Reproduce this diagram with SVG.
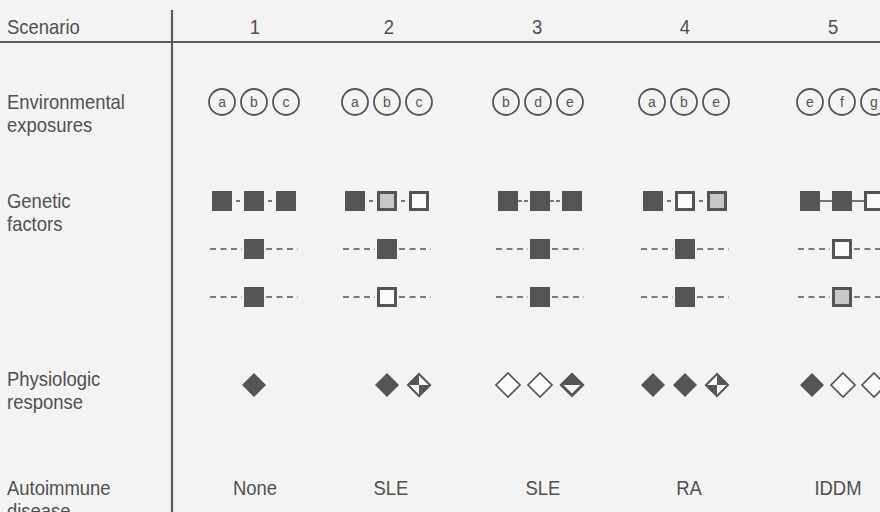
<svg xmlns="http://www.w3.org/2000/svg" width="880" height="512" viewBox="0 0 880 512">
<defs>
<style>
.lbl{font-family:"Liberation Sans",Arial,sans-serif;font-size:20.5px;fill:#505050}
.hd{font-family:"Liberation Sans",Arial,sans-serif;font-size:20.5px;fill:#505050;text-anchor:middle}
.cl{font-family:"Liberation Sans",Arial,sans-serif;font-size:15.5px;fill:#555;text-anchor:middle}
.circ{fill:none;stroke:#555;stroke-width:1.8}
.rule{stroke:#5a5a5a;stroke-width:2.2;fill:none}
.sqF{fill:#555;stroke:#555;stroke-width:1}
.sqO{fill:#fafafa;stroke:#555;stroke-width:3}
.sqS{fill:#c8c8c8;stroke:#555;stroke-width:3}
.link{stroke:#555;stroke-width:1.6;fill:none}
.dash{stroke:#555;stroke-width:1.6;fill:none;stroke-dasharray:6,4.5}
.dF{fill:#555}
.dO{fill:#fafafa;stroke:#555;stroke-width:1.7}
</style>
<symbol id="sF" viewBox="0 0 20 20"><rect x="0.5" y="0.5" width="19" height="19" class="sqF"/></symbol>
<symbol id="sO" viewBox="0 0 20 20" overflow="visible"><rect x="1.5" y="1.5" width="17" height="17" class="sqO"/></symbol>
<symbol id="sS" viewBox="0 0 20 20" overflow="visible"><rect x="1.5" y="1.5" width="17" height="17" class="sqS"/></symbol>
<path id="dia" d="M0,-12 L12,0 L0,12 L-12,0 Z"/>
</defs>
<rect width="880" height="512" fill="#f3f3f3"/>

<g id="frame">
<line class="rule" x1="0" y1="42" x2="880" y2="42"/>
<line class="rule" x1="172" y1="10" x2="172" y2="512"/>
</g>

<g id="row-labels" transform="scale(0.9,1)">
<text class="lbl" x="7.8" y="34">Scenario</text>
<text class="lbl" x="7.8" y="109">Environmental</text>
<text class="lbl" x="7.8" y="132">exposures</text>
<text class="lbl" x="7.8" y="208">Genetic</text>
<text class="lbl" x="7.8" y="231">factors</text>
<text class="lbl" x="7.8" y="386">Physiologic</text>
<text class="lbl" x="7.8" y="409">response</text>
<text class="lbl" x="7.8" y="495">Autoimmune</text>
<text class="lbl" x="7.8" y="518">disease</text>
</g>

<g id="headers" transform="scale(0.9,1)">
<text class="hd" x="283.3" y="34">1</text>
<text class="hd" x="432.2" y="34">2</text>
<text class="hd" x="596.7" y="34">3</text>
<text class="hd" x="761.1" y="34">4</text>
<text class="hd" x="925.6" y="34">5</text>
</g>

<g id="exposures">
<g id="env-circles">
<circle class="circ" cx="222" cy="102" r="13"/>
<circle class="circ" cx="254" cy="102" r="13"/>
<circle class="circ" cx="286" cy="102" r="13"/>
<circle class="circ" cx="355" cy="102" r="13"/>
<circle class="circ" cx="387" cy="102" r="13"/>
<circle class="circ" cx="419" cy="102" r="13"/>
<circle class="circ" cx="506" cy="102" r="13"/>
<circle class="circ" cx="538" cy="102" r="13"/>
<circle class="circ" cx="570" cy="102" r="13"/>
<circle class="circ" cx="652" cy="102" r="13"/>
<circle class="circ" cx="684" cy="102" r="13"/>
<circle class="circ" cx="716" cy="102" r="13"/>
<circle class="circ" cx="810" cy="102" r="13"/>
<circle class="circ" cx="842" cy="102" r="13"/>
<circle class="circ" cx="874" cy="102" r="13"/>
</g>
<g id="env-letters" transform="scale(0.9,1)">
<text class="cl" x="246.7" y="107.5">a</text>
<text class="cl" x="282.2" y="107.5">b</text>
<text class="cl" x="317.8" y="107.5">c</text>
<text class="cl" x="394.4" y="107.5">a</text>
<text class="cl" x="430.0" y="107.5">b</text>
<text class="cl" x="465.6" y="107.5">c</text>
<text class="cl" x="562.2" y="107.5">b</text>
<text class="cl" x="597.8" y="107.5">d</text>
<text class="cl" x="633.3" y="107.5">e</text>
<text class="cl" x="724.4" y="107.5">a</text>
<text class="cl" x="760.0" y="107.5">b</text>
<text class="cl" x="795.6" y="107.5">e</text>
<text class="cl" x="900.0" y="107.5">e</text>
<text class="cl" x="935.6" y="107.5">f</text>
<text class="cl" x="971.1" y="107.5">g</text>
</g>
</g>

<g id="connectors">
<line class="link" x1="236" y1="201" x2="240" y2="201"/><line class="link" x1="268" y1="201" x2="272" y2="201"/>
<line class="link" x1="369" y1="201" x2="373" y2="201"/><line class="link" x1="401" y1="201" x2="405" y2="201"/>
<line class="link" x1="518" y1="201" x2="528" y2="201" stroke-dasharray="4,2"/><line class="link" x1="550" y1="201" x2="560" y2="201" stroke-dasharray="4,2"/>
<line class="link" x1="667" y1="201" x2="671" y2="201"/><line class="link" x1="699" y1="201" x2="703" y2="201"/>
<line class="link" x1="820" y1="201" x2="832" y2="201"/><line class="link" x1="852" y1="201" x2="864" y2="201"/>
<g class="dash">
<path d="M210,249H242M266,249H298M210,297H242M266,297H298"/>
<path d="M343,249H375M399,249H431M343,297H375M399,297H431"/>
<path d="M496,249H528M552,249H584M496,297H528M552,297H584"/>
<path d="M641,249H673M697,249H729M641,297H673M697,297H729"/>
<path d="M798,249H830M854,249H886M798,297H830M854,297H886"/>
</g>
</g>

<g id="genetic">
<g id="s1-gen">
<use href="#sF" x="212" y="191" width="20" height="20"/><use href="#sF" x="244" y="191" width="20" height="20"/><use href="#sF" x="276" y="191" width="20" height="20"/>
<use href="#sF" x="244" y="239" width="20" height="20"/><use href="#sF" x="244" y="287" width="20" height="20"/>
</g>
<g id="s2-gen">
<use href="#sF" x="345" y="191" width="20" height="20"/><use href="#sS" x="377" y="191" width="20" height="20"/><use href="#sO" x="409" y="191" width="20" height="20"/>
<use href="#sF" x="377" y="239" width="20" height="20"/><use href="#sO" x="377" y="287" width="20" height="20"/>
</g>
<g id="s3-gen">
<use href="#sF" x="498" y="191" width="20" height="20"/><use href="#sF" x="530" y="191" width="20" height="20"/><use href="#sF" x="562" y="191" width="20" height="20"/>
<use href="#sF" x="530" y="239" width="20" height="20"/><use href="#sF" x="530" y="287" width="20" height="20"/>
</g>
<g id="s4-gen">
<use href="#sF" x="643" y="191" width="20" height="20"/><use href="#sO" x="675" y="191" width="20" height="20"/><use href="#sS" x="707" y="191" width="20" height="20"/>
<use href="#sF" x="675" y="239" width="20" height="20"/><use href="#sF" x="675" y="287" width="20" height="20"/>
</g>
<g id="s5-gen">
<use href="#sF" x="800" y="191" width="20" height="20"/><use href="#sF" x="832" y="191" width="20" height="20"/><use href="#sO" x="864" y="191" width="20" height="20"/>
<use href="#sO" x="832" y="239" width="20" height="20"/><use href="#sS" x="832" y="287" width="20" height="20"/>
</g>
</g>

<g id="physiologic">
<g id="s1-phys"><use href="#dia" x="254" y="385" class="dF"/></g>
<g id="s2-phys">
<use href="#dia" x="387" y="385" class="dF"/>
<g transform="translate(419,385)"><path d="M0,-12 L12,0 L0,12 L-12,0 Z" fill="#fafafa"/><path d="M0,-12 L0,0 L-12,0 Z M0,0 L12,0 L0,12 Z" fill="#555"/><path d="M0,-11 L11,0 L0,11 L-11,0 Z" fill="none" stroke="#555" stroke-width="2"/></g>
</g>
<g id="s3-phys">
<use href="#dia" x="508" y="385" class="dO"/>
<use href="#dia" x="540" y="385" class="dO"/>
<g transform="translate(572,385)"><path d="M0,-12 L12,0 L0,12 L-12,0 Z" fill="#fafafa"/><path d="M-12,0 L0,-12 L12,0 Z" fill="#555"/><path d="M0,-10.5 L10.5,0 L0,10.5 L-10.5,0 Z" fill="none" stroke="#555" stroke-width="3"/></g>
</g>
<g id="s4-phys">
<use href="#dia" x="653" y="385" class="dF"/>
<use href="#dia" x="685" y="385" class="dF"/>
<g transform="translate(717,385)"><path d="M0,-12 L12,0 L0,12 L-12,0 Z" fill="#fafafa"/><path d="M0,-12 L12,0 L0,0 Z M0,0 L0,12 L-12,0 Z" fill="#555"/><path d="M0,-11 L11,0 L0,11 L-11,0 Z" fill="none" stroke="#555" stroke-width="2"/></g>
</g>
<g id="s5-phys">
<use href="#dia" x="812" y="385" class="dF"/>
<use href="#dia" x="843" y="385" class="dO"/>
<use href="#dia" x="874" y="385" class="dO"/>
</g>
</g>

<g id="diseases" transform="scale(0.9,1)">
<text class="hd" x="283.3" y="495">None</text>
<text class="hd" x="434.4" y="495">SLE</text>
<text class="hd" x="603.3" y="495">SLE</text>
<text class="hd" x="765.6" y="495">RA</text>
<text class="hd" x="931.1" y="495">IDDM</text>
</g>
</svg>
